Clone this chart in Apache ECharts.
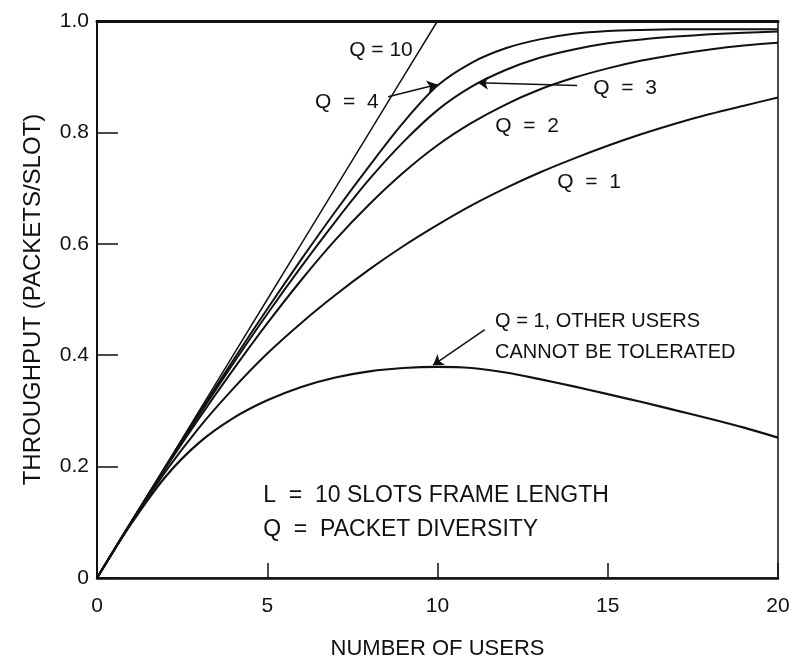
<!DOCTYPE html>
<html>
<head>
<meta charset="utf-8">
<script src="https://cdn.jsdelivr.net/npm/echarts@6/dist/echarts.min.js"></script>
<style>
html,body{margin:0;padding:0;background:#fff;}
#chart{width:795px;height:657px;}
</style>
</head>
<body>
<div id="chart"></div>
<script>
// ---- data ----
const users = [0,1,2,3,4,5,6,7,8,9,10,11,12,13,14,15,16,17,18,19,20];
const q10   = [0,0.1,0.2,0.3,0.4,0.5,0.6,0.7,0.8,0.9,1.0,1.0,1.0,1.0,1.0,1.0,1.0,1.0,1.0,1.0,1.0];
const q4    = [0,0.1,0.199,0.296,0.391,0.483,0.572,0.658,0.74,0.818,0.884,0.925,0.951,0.967,0.977,0.982,0.984,0.985,0.985,0.985,0.985];
const q3    = [0,0.1,0.198,0.293,0.385,0.474,0.559,0.64,0.716,0.783,0.84,0.882,0.912,0.934,0.949,0.96,0.967,0.972,0.976,0.979,0.981];
const q2    = [0,0.1,0.196,0.287,0.374,0.457,0.535,0.607,0.671,0.728,0.777,0.817,0.85,0.877,0.898,0.915,0.929,0.94,0.949,0.956,0.961];
const q1    = [0,0.1,0.19,0.27,0.34,0.403,0.458,0.508,0.554,0.596,0.634,0.669,0.7,0.728,0.753,0.776,0.797,0.816,0.833,0.848,0.8625];
const q1NoTol = [0,0.097,0.181,0.243,0.287,0.319,0.343,0.36,0.371,0.377,0.379,0.377,0.369,0.357,0.344,0.33,0.316,0.301,0.286,0.27,0.252];

const xTicks = [0,5,10,15,20];
const yTickLabels = ['0','0.2','0.4','0.6','0.8','1.0'];

const labelTexts = ['Q = 10','Q  =  4','Q  =  3','Q  =  2','Q  =  1'];
const labelX     = [8.34, 7.34, 15.51, 12.63, 14.45];
const labelY     = [0.948, 0.855, 0.880, 0.811, 0.711];

const noteTexts = ['Q = 1, OTHER USERS','CANNOT BE TOLERATED','L  =  10 SLOTS FRAME LENGTH','Q  =  PACKET DIVERSITY'];
const noteX     = [11.69, 11.69, 4.88, 4.88];
const noteY     = [0.461, 0.405, 0.148, 0.086];

const arrowFrom = [[8.55,0.864],[14.10,0.884],[11.39,0.446]];
const arrowTo   = [[9.99,0.886],[11.19,0.889],[9.87,0.382]];

// ---- chart ----
const FONT = 'Liberation Sans, Arial, sans-serif';
const chart = echarts.init(document.getElementById('chart'), null, {renderer:'canvas'});

function pairs(ys){ return users.map((x,i)=>[x, ys[i]]); }
function curve(name, ys, width, smooth){
  return {name, type:'line', data:pairs(ys), showSymbol:false, symbol:'none',
    smooth: smooth, lineStyle:{color:'#111', width:width}, silent:true, z:3};
}

const markPts = [];
labelTexts.forEach((t,i)=>markPts.push({coord:[labelX[i],labelY[i]], value:t,
  label:{show:true, formatter:t, align:'center', verticalAlign:'middle', fontSize:21, fontFamily:FONT, color:'#111'}}));
noteTexts.forEach((t,i)=>markPts.push({coord:[noteX[i],noteY[i]], value:t,
  label:{show:true, formatter:t, align:'left', verticalAlign:'middle', fontSize:i<2?20:23, fontFamily:FONT, color:'#111'}}));

const arrows = arrowFrom.map((f,i)=>[{coord:f},{coord:arrowTo[i]}]);

const option = {
  animation:false,
  backgroundColor:'#fff',
  grid:{left:97, right:17, top:21, bottom:79, outerBoundsMode:'none', containLabel:false,
    show:true, borderColor:'#111', borderWidth:1.5, backgroundColor:'transparent'},
  xAxis:[{type:'value', min:0, max:20, interval:5,
    name:'NUMBER OF USERS', nameLocation:'middle', nameGap:60,
    nameTextStyle:{fontSize:22, fontFamily:FONT, color:'#111'},
    axisLine:{show:true, lineStyle:{color:'#111', width:2.5}},
    axisTick:{show:true, inside:true, length:15, lineStyle:{color:'#111', width:1.5}},
    axisLabel:{fontSize:21, fontFamily:FONT, color:'#111', margin:18,
      formatter:v=> xTicks.indexOf(v)>=0 ? String(v) : ''},
    splitLine:{show:false}},
   {type:'value', position:'top', min:0, max:20,
    axisLine:{show:true, onZero:false, lineStyle:{color:'#111', width:3}},
    axisTick:{show:false}, axisLabel:{show:false}, splitLine:{show:false}}],
  yAxis:{type:'value', min:0, max:1, interval:0.2,
    name:'THROUGHPUT (PACKETS/SLOT)', nameLocation:'middle', nameGap:52,
    nameTextStyle:{fontSize:24, fontFamily:FONT, color:'#111'},
    axisLine:{show:true, lineStyle:{color:'#111', width:2}},
    axisTick:{show:true, inside:true, length:21, lineStyle:{color:'#111', width:1.5}},
    axisLabel:{fontSize:21, fontFamily:FONT, color:'#111', margin:8,
      formatter:v=> yTickLabels[Math.round(v/0.2)]},
    splitLine:{show:false}},
  series:[
    Object.assign(curve('Q=10', q10, 1.5, false), {
      markPoint:{symbol:'circle', symbolSize:0, silent:true, data:markPts, animation:false},
      markLine:{symbol:['none','arrow'], symbolSize:10, silent:true, animation:false,
        lineStyle:{color:'#111', width:1.5, type:'solid'}, label:{show:false}, data:arrows}
    }),
    curve('Q=4', q4, 2, 0.3),
    curve('Q=3', q3, 2, 0.3),
    curve('Q=2', q2, 2, 0.3),
    curve('Q=1', q1, 2, 0.3),
    curve('Q=1 no tolerance', q1NoTol, 2.2, 0.3)
  ]
};
chart.setOption(option);
</script>
</body>
</html>
